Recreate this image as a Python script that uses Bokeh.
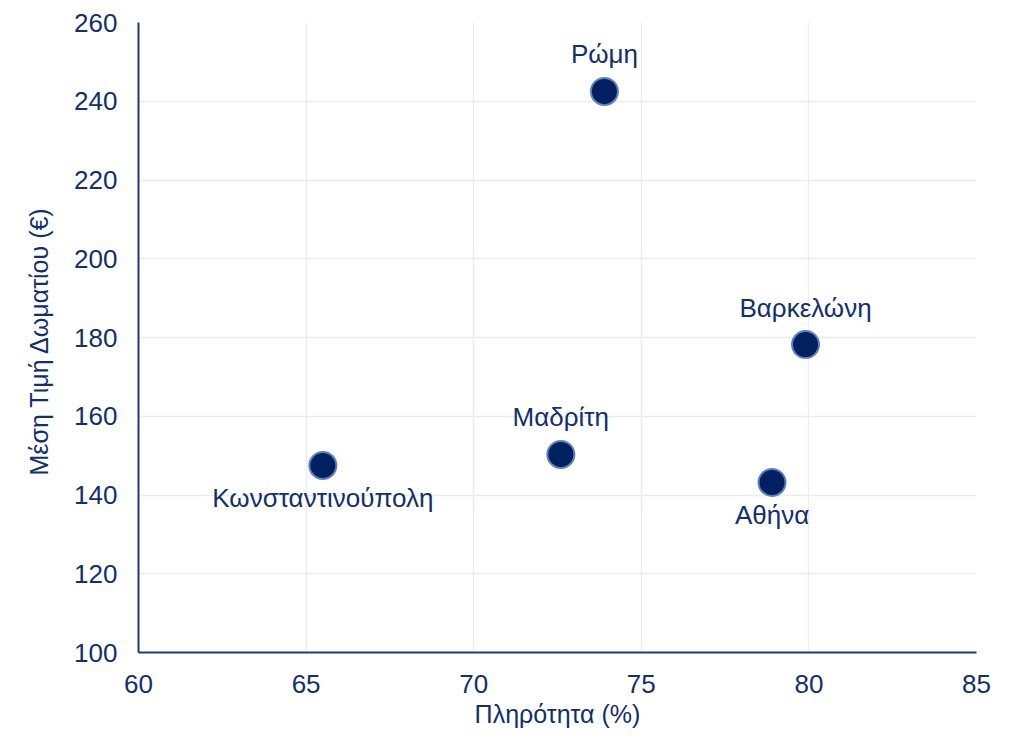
from bokeh.plotting import figure
from bokeh.models import ColumnDataSource, Range1d, FixedTicker
from bokeh.core.properties import value
from bokeh.embed import file_html
from bokeh.resources import INLINE

cities = ["Ρώμη", "Βαρκελώνη", "Μαδρίτη", "Κωνσταντινούπολη", "Αθήνα"]
occupancy = [73.9, 79.9, 72.6, 65.5, 78.9]
price = [242.5, 178.2, 150.3, 147.5, 143.2]
label_above = [True, True, True, False, False]

x_ticks = [60, 65, 70, 75, 80, 85]
y_ticks = [100, 120, 140, 160, 180, 200, 220, 240, 260]

FONT = "Liberation Sans"
TXT = "#12306b"
AX = "#1f3a6e"

src = ColumnDataSource(dict(x=occupancy, y=price, name=cities))
above = ColumnDataSource(dict(
    x=[a for a, f in zip(occupancy, label_above) if f],
    y=[b for b, f in zip(price, label_above) if f],
    name=[c for c, f in zip(cities, label_above) if f]))
below = ColumnDataSource(dict(
    x=[a for a, f in zip(occupancy, label_above) if not f],
    y=[b for b, f in zip(price, label_above) if not f],
    name=[c for c, f in zip(cities, label_above) if not f]))

W, H = 1007, 733
p = figure(width=W, height=H, output_backend="svg", toolbar_location=None,
           x_range=Range1d(60, 85), y_range=Range1d(100, 260),
           min_border_left=138, min_border_right=W - 976, min_border_top=22,
           min_border_bottom=H - 652)
p.outline_line_color = None
p.background_fill_color = "white"

for ax in (p.xaxis[0], p.yaxis[0]):
    ax.axis_line_color = AX
    ax.axis_line_width = 2
    ax.major_tick_line_color = None
    ax.minor_tick_line_color = None
    ax.major_label_text_font = FONT
    ax.major_label_text_font_size = "26px"
    ax.major_label_text_color = TXT
    ax.axis_label_text_font = FONT
    ax.axis_label_text_font_size = "25px"
    ax.axis_label_text_color = TXT
    ax.axis_label_text_font_style = "normal"

p.xaxis.ticker = FixedTicker(ticks=x_ticks)
p.yaxis.ticker = FixedTicker(ticks=y_ticks)
p.xaxis.axis_label = "Πληρότητα (%)"
p.yaxis.axis_label = "Μέση Τιμή Δωματίου  (€)"
p.xaxis.major_label_standoff = 16
p.yaxis.major_label_standoff = 15
p.xaxis.axis_label_standoff = 4
p.yaxis.axis_label_standoff = 18

p.xgrid.grid_line_color = "#ececec"
p.ygrid.grid_line_color = "#ececec"
p.xgrid.grid_line_width = 1.5
p.ygrid.grid_line_width = 1.5

p.scatter("x", "y", source=src, size=27, fill_color="#002060",
          line_color="#5b80c4", line_width=2)

p.text("x", "y", text="name", source=above, y_offset=-37, text_align="center",
       text_baseline="middle", text_font=value(FONT), text_font_size="26px", text_color=TXT)
p.text("x", "y", text="name", source=below, y_offset=33, text_align="center",
       text_baseline="middle", text_font=value(FONT), text_font_size="26px", text_color=TXT)

open("out.html", "w").write(file_html(p, INLINE))
